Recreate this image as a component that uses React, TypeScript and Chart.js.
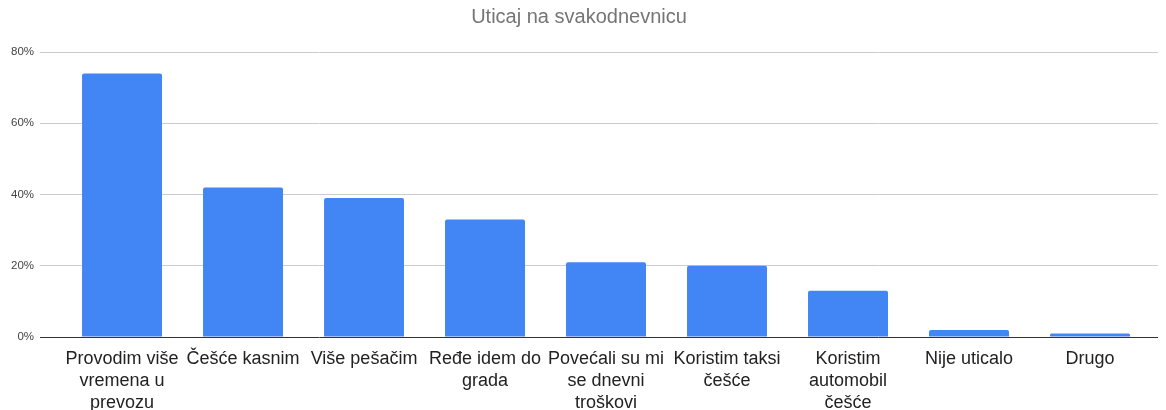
import React, { useEffect, useRef } from "react";
import { Chart, registerables } from "chart.js";

Chart.register(...registerables);

// Survey answers and share of respondents (%)
const categories: string[][] = [
  ["Provodim više", "vremena u", "prevozu"],
  ["Češće kasnim"],
  ["Više pešačim"],
  ["Ređe idem do", "grada"],
  ["Povećali su mi", "se dnevni", "troškovi"],
  ["Koristim taksi", "češće"],
  ["Koristim", "automobil", "češće"],
  ["Nije uticalo"],
  ["Drugo"],
];
const shares: number[] = [74, 42, 39, 33, 21, 20, 13, 2, 1];
const yTicks: number[] = [0, 20, 40, 60, 80];
const chartTitle = "Uticaj na svakodnevnicu";

const FONT = "'Liberation Sans', Arial, Helvetica, sans-serif";

export default function App() {
  const canvasRef = useRef<HTMLCanvasElement | null>(null);

  useEffect(() => {
    if (!canvasRef.current) return;
    const chart = new Chart(canvasRef.current, {
      type: "bar",
      data: {
        datasets: [
          {
            data: shares.map((v, i) => ({ x: i, y: v })),
            backgroundColor: "#4285F4",
            borderRadius: 2,
            barPercentage: 0.661,
            categoryPercentage: 1,
          },
        ],
      },
      options: {
        animation: false,
        responsive: true,
        maintainAspectRatio: false,
        layout: { padding: { left: 0, right: 8, top: 0, bottom: 0 } },
        plugins: {
          legend: { display: false },
          tooltip: { enabled: false },
          title: {
            display: true,
            text: chartTitle,
            color: "#757575",
            font: { family: FONT, size: 20, weight: "normal" },
            padding: { top: 5, bottom: 23 },
          },
        },
        scales: {
          x: {
            type: "linear",
            offset: false,
            min: -0.678,
            max: 8.562,
            afterBuildTicks: (scale: any) => {
              scale.ticks = categories.map((_, i) => ({ value: i }));
            },
            afterFit: (scale: any) => {
              scale.height = 73;
            },
            grid: { display: false },
            border: { display: false },
            ticks: {
              autoSkip: false,
              maxRotation: 0,
              minRotation: 0,
              padding: 3,
              color: "#222",
              font: { family: FONT, size: 18, lineHeight: 1.22 },
              callback: (value: any) => categories[Number(value)] ?? "",
            },
          },
          y: {
            min: 0,
            max: 80,
            afterBuildTicks: (scale: any) => {
              scale.ticks = yTicks.map((v) => ({ value: v }));
            },
            afterFit: (scale: any) => {
              scale.width = 40;
            },
            border: { display: false },
            grid: {
              drawTicks: false,
              color: (ctx: any) => (ctx.tick && ctx.tick.value === 0 ? "#333" : "#ccc"),
            },
            ticks: {
              padding: 6,
              color: "#444",
              font: { family: FONT, size: 11.5 },
              callback: (value: any) => `${value}%`,
            },
          },
        },
      },
    });
    return () => chart.destroy();
  }, []);

  return (
    <div
      style={{
        position: "fixed",
        left: 0,
        top: 0,
        width: 1166,
        height: 410,
        background: "#fff",
      }}
    >
      <canvas ref={canvasRef} />
    </div>
  );
}
